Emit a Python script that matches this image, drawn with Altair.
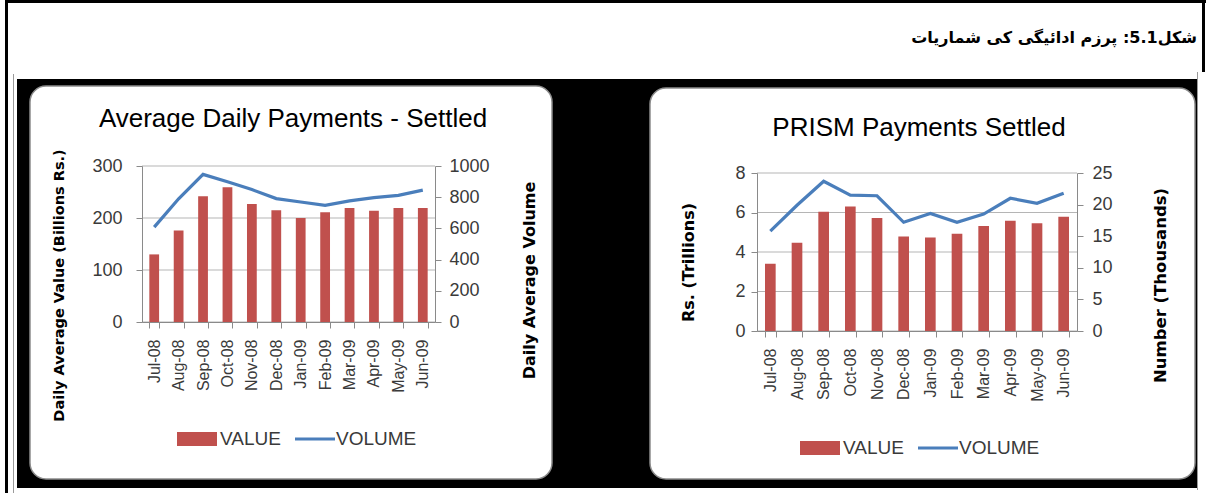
import altair as alt
import pandas as pd

# ---------------- data ----------------
months = ["Jul-08", "Aug-08", "Sep-08", "Oct-08", "Nov-08", "Dec-08",
          "Jan-09", "Feb-09", "Mar-09", "Apr-09", "May-09", "Jun-09"]

adp_value = [130, 176, 242, 259, 227, 215, 200, 211, 219, 214, 219, 219]      # Billions Rs.
adp_volume = [608, 790, 946, 899, 849, 791, 769, 748, 776, 797, 812, 845]     # daily avg volume

prism_value = [3.40, 4.47, 6.04, 6.30, 5.72, 4.78, 4.73, 4.93, 5.32, 5.58, 5.46, 5.79]   # Rs. trillions
prism_volume = [15.8, 19.9, 23.7, 21.5, 21.4, 17.2, 18.6, 17.2, 18.5, 21.0, 20.2, 21.8]  # thousands

adp_value_ticks = [0, 100, 200, 300]
adp_volume_ticks = [0, 200, 400, 600, 800, 1000]
prism_value_ticks = [0, 2, 4, 6, 8]
prism_volume_ticks = [0, 5, 10, 15, 20, 25]

page_title = "شکل5.1: پرزم ادائیگی کی شماریات"
left_title = "Average Daily Payments - Settled"
right_title = "PRISM Payments Settled"
legend_labels = ["VALUE", "VOLUME"]

# ---------------- style ----------------
RED = "#C0504D"
BLUE = "#4A7EBB"
SANS = "Liberation Sans"
LABEL = "#3a3a3a"
AXIS = "#8a8a8a"
GRID = "#b5b5b5"

one = pd.DataFrame({"k": [0]})


def box(x, x2, y, y2, color, radius=0, stroke=None, sw=0):
    kw = dict(color=color)
    if radius:
        kw["cornerRadius"] = radius
    if stroke:
        kw["stroke"] = stroke
        kw["strokeWidth"] = sw
    return alt.Chart(one).mark_rect(**kw).encode(
        x=alt.value(x), x2=alt.value(x2), y=alt.value(y), y2=alt.value(y2))


def label(x, y, txt, size, font=SANS, align="left", weight="normal", color="#000000"):
    return alt.Chart(one).mark_text(
        align=align, baseline="middle", font=font, fontSize=size,
        fontWeight=weight, color=color).encode(
        x=alt.value(x), y=alt.value(y), text=alt.value(txt))


def hline(x, x2, y, color, w):
    return alt.Chart(one).mark_rule(color=color, strokeWidth=w).encode(
        x=alt.value(x), x2=alt.value(x2), y=alt.value(y))


def x_enc(lab_pad):
    return alt.X(
        "month:N", sort=months,
        scale=alt.Scale(paddingInner=0.6, paddingOuter=0.3),
        axis=alt.Axis(title=None, labelAngle=-90, labelFont=SANS,
                      labelFontSize=16, labelColor=LABEL, tickBand="extent",
                      tickSize=6, tickColor=AXIS, domainColor=AXIS,
                      labelPadding=lab_pad, zindex=1))


def build(values, volumes, vdom, vticks, voldom, volticks, W, H, yrange,
          ltitle, rtitle, ltitle_pos, rtitle_pos, ltitle_size, rtitle_size,
          lpad, rpad, xpad, title_txt, title_pos, legend_pos):
    df = pd.DataFrame({"month": months, "value": values, "volume": volumes})
    grid_df = pd.DataFrame({"g": vticks})

    if yrange is not None:
        yscale = alt.Scale(domain=vdom, nice=False, zero=True, range=yrange)
        yscale2 = alt.Scale(domain=voldom, nice=False, zero=True, range=yrange)
    else:
        yscale = alt.Scale(domain=vdom, nice=False, zero=True)
        yscale2 = alt.Scale(domain=voldom, nice=False, zero=True)

    grid = alt.Chart(grid_df).mark_rule(color=GRID, strokeWidth=1).encode(
        y=alt.Y("g:Q", scale=yscale, axis=None),
        x=alt.value(0), x2=alt.value(W))

    bars = alt.Chart(df).mark_bar(color=RED).encode(
        x=x_enc(xpad),
        y=alt.Y("value:Q", scale=yscale,
                axis=alt.Axis(values=vticks, title=ltitle, orient="left",
                              format="d",
                              titleFont="DejaVu Sans", titleFontWeight="bold",
                              titleFontSize=ltitle_size, titleColor="#000000",
                              titleAngle=270, titleAlign="center",
                              titleBaseline="middle",
                              titleX=ltitle_pos[0], titleY=ltitle_pos[1],
                              labelFont=SANS, labelFontSize=18,
                              labelColor=LABEL, tickSize=6, tickColor=AXIS,
                              domainColor=AXIS, labelPadding=lpad, grid=False,
                              zindex=1)))

    line = alt.Chart(df).mark_line(color=BLUE, strokeWidth=3.2).encode(
        x=x_enc(xpad),
        y=alt.Y("volume:Q", scale=yscale2,
                axis=alt.Axis(values=volticks, title=rtitle, orient="right",
                              format="d",
                              titleFont="DejaVu Sans", titleFontWeight="bold",
                              titleFontSize=rtitle_size, titleColor="#000000",
                              titleAngle=270, titleAlign="center",
                              titleBaseline="middle",
                              titleX=rtitle_pos[0], titleY=rtitle_pos[1],
                              labelFont=SANS, labelFontSize=18,
                              labelColor=LABEL, tickSize=6, tickColor=AXIS,
                              domainColor=AXIS, labelPadding=rpad, grid=False,
                              zindex=1)))

    lx, ly = legend_pos
    legend = [
        box(lx, lx + 40, ly - 7, ly + 7, RED),
        label(lx + 43, ly, legend_labels[0], 19, color=LABEL),
        hline(lx + 118, lx + 158, ly, BLUE, 3.2),
        label(lx + 159, ly, legend_labels[1], 19, color=LABEL),
    ]
    ttl = label(title_pos[0], title_pos[1], title_txt, 26, align="center")
    return [ttl, grid, bars, line] + legend, (W, H)


# ---------- left chart (plot origin at page x=142, y=166) ----------
OX, OY = 142, 166
page = [
    box(0 - OX, 1208 - OX, 0 - OY, 495 - OY, "#ffffff"),
    box(5 - OX, 1206 - OX, 0 - OY, 3 - OY, "#000000"),
    box(5 - OX, 8 - OX, 0 - OY, 493 - OY, "#000000"),
    box(1202 - OX, 1205 - OX, 0 - OY, 72 - OY, "#000000"),
    box(13 - OX, 14 - OX, 74 - OY, 493 - OY, "#9a9a9a"),
    box(17 - OX, 1197 - OX, 79 - OY, 488 - OY, "#000000"),
    box(1197 - OX, 1198 - OX, 72 - OY, 490 - OY, "#9a9a9a"),
    box(30 - OX, 552 - OX, 86 - OY, 479 - OY, "#ffffff", radius=16,
        stroke="#8c8c8c", sw=1.5),
    label(1197 - OX, 38 - OY, page_title, 16, font="DejaVu Sans",
          align="right", weight="bold"),
]

left_layers, (LW, LH) = build(
    adp_value, adp_volume, [0, 300], adp_value_ticks, [0, 1000], adp_volume_ticks,
    293, 156, None,
    "Daily Average Value (Billions Rs.)", "Daily Average Volume",
    (59 - 142, 285 - 166), (529 - 435, 280 - 166), 14.5, 16,
    14, 8, 11,
    left_title, (293 - OX, 119 - OY), (177 - OX, 439 - OY))

left = alt.layer(*(page + left_layers)).resolve_scale(y="independent").properties(
    width=LW, height=LH)

# ---------- right chart (plot origin at page x=757, y=166) ----------
RX, RY = 757, 166
rpanel = [box(650 - RX, 1195 - RX, 88 - RY, 479 - RY, "#ffffff", radius=16,
              stroke="#8c8c8c", sw=1.5)]

right_layers, (RW, RH) = build(
    prism_value, prism_volume, [0, 8], prism_value_ticks, [0, 25], prism_volume_ticks,
    320, 165, [165, 7],
    "Rs. (Trillions)", "Number (Thousands)",
    (688 - 757, 262 - 166), (1160 - 1077, 285 - 166), 16, 16.5,
    6, 9, 11,
    right_title, (919 - RX, 128 - RY), (800 - RX, 448 - RY))

right = alt.layer(*(rpanel + right_layers)).resolve_scale(y="independent").properties(
    width=RW, height=RH)

chart = alt.hconcat(left, right, spacing=322, bounds="flush").properties(
    padding=0, background="#ffffff").configure_view(stroke=None)

chart.save("out.html", embed_options={"renderer": "svg", "actions": False})
